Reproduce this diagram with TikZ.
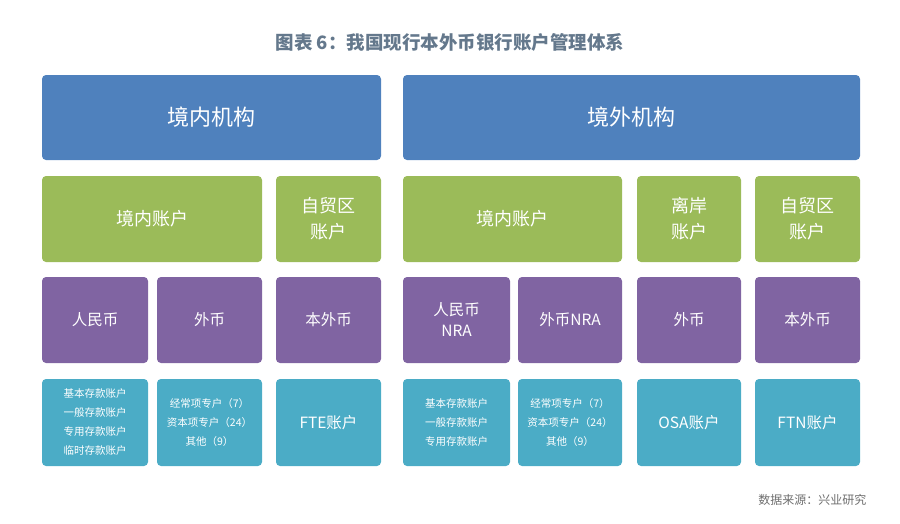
\documentclass[tikz,border=0pt]{standalone}
\usepackage{fontspec}
\setmainfont{Noto Sans CJK SC}
\begin{document}
\begin{tikzpicture}[x=1pt,y=-1pt,
 bx/.style={draw=none,rounded corners=4pt,text=white,align=center,inner sep=0pt},
 blue/.style={bx,fill={rgb,255:red,79;green,129;blue,189}},
 grn/.style={bx,fill={rgb,255:red,155;green,187;blue,89}},
 pur/.style={bx,fill={rgb,255:red,128;green,100;blue,162}},
 cyn/.style={bx,fill={rgb,255:red,75;green,172;blue,198}},
 fa/.style={font=\fontsize{22}{26}\selectfont},
 fb/.style={font=\fontsize{18}{26}\selectfont},
 fc/.style={font=\fontsize{15.5}{21}\selectfont},
 fd/.style={font=\fontsize{10.5}{19}\selectfont}]
\useasboundingbox (0,0) rectangle (900,523);
\node (title) at (450,42) {\color[RGB]{100,120,140}\fontsize{18.5}{22}\selectfont\bfseries 图表 6：我国现行本外币银行账户管理体系};
\def\bxx#1#2#3#4#5#6#7{\path[#2] (#3,#4) rectangle node[#2,fill=none] (#1) {#7} (#5,#6);}
\bxx{a1}{blue,fa}{42}{75}{381}{160}{境内机构}
\bxx{a2}{blue,fa}{403}{75}{860}{160}{境外机构}
\bxx{b1}{grn,fb}{42}{176}{262}{262}{境内账户}
\bxx{b2}{grn,fb}{276}{176}{381}{262}{自贸区\\账户}
\bxx{b3}{grn,fb}{403}{176}{622}{262}{境内账户}
\bxx{b4}{grn,fb}{637}{176}{741}{262}{离岸\\账户}
\bxx{b5}{grn,fb}{755}{176}{860}{262}{自贸区\\账户}
\bxx{c1}{pur,fc}{42}{277}{148}{363}{人民币}
\bxx{c2}{pur,fc}{157}{277}{262}{363}{外币}
\bxx{c3}{pur,fc}{276}{277}{381}{363}{本外币}
\bxx{c4}{pur,fc}{403}{277}{510}{363}{人民币\\NRA}
\bxx{c5}{pur,fc}{518}{277}{622}{363}{外币NRA}
\bxx{c6}{pur,fc}{637}{277}{741}{363}{外币}
\bxx{c7}{pur,fc}{755}{277}{860}{363}{本外币}
\bxx{d1}{cyn,fd}{42}{379}{148}{466}{基本存款账户\\一般存款账户\\专用存款账户\\临时存款账户}
\bxx{d2}{cyn,fd}{157}{379}{262}{466}{经常项专户（7）\\资本项专户（24）\\其他（9）}
\bxx{d3}{cyn,fc}{276}{379}{381}{466}{FTE账户}
\bxx{d4}{cyn,fd}{403}{379}{510}{466}{基本存款账户\\一般存款账户\\专用存款账户}
\bxx{d5}{cyn,fd}{518}{379}{622}{466}{经常项专户（7）\\资本项专户（24）\\其他（9）}
\bxx{d6}{cyn,fc}{637}{379}{741}{466}{OSA账户}
\bxx{d7}{cyn,fc}{755}{379}{860}{466}{FTN账户}
\node[anchor=east,text={rgb,255:red,110;green,110;blue,110}] (src) at (870,500) {\fontsize{12}{14}\selectfont 数据来源：兴业研究};
\end{tikzpicture}
\end{document}
